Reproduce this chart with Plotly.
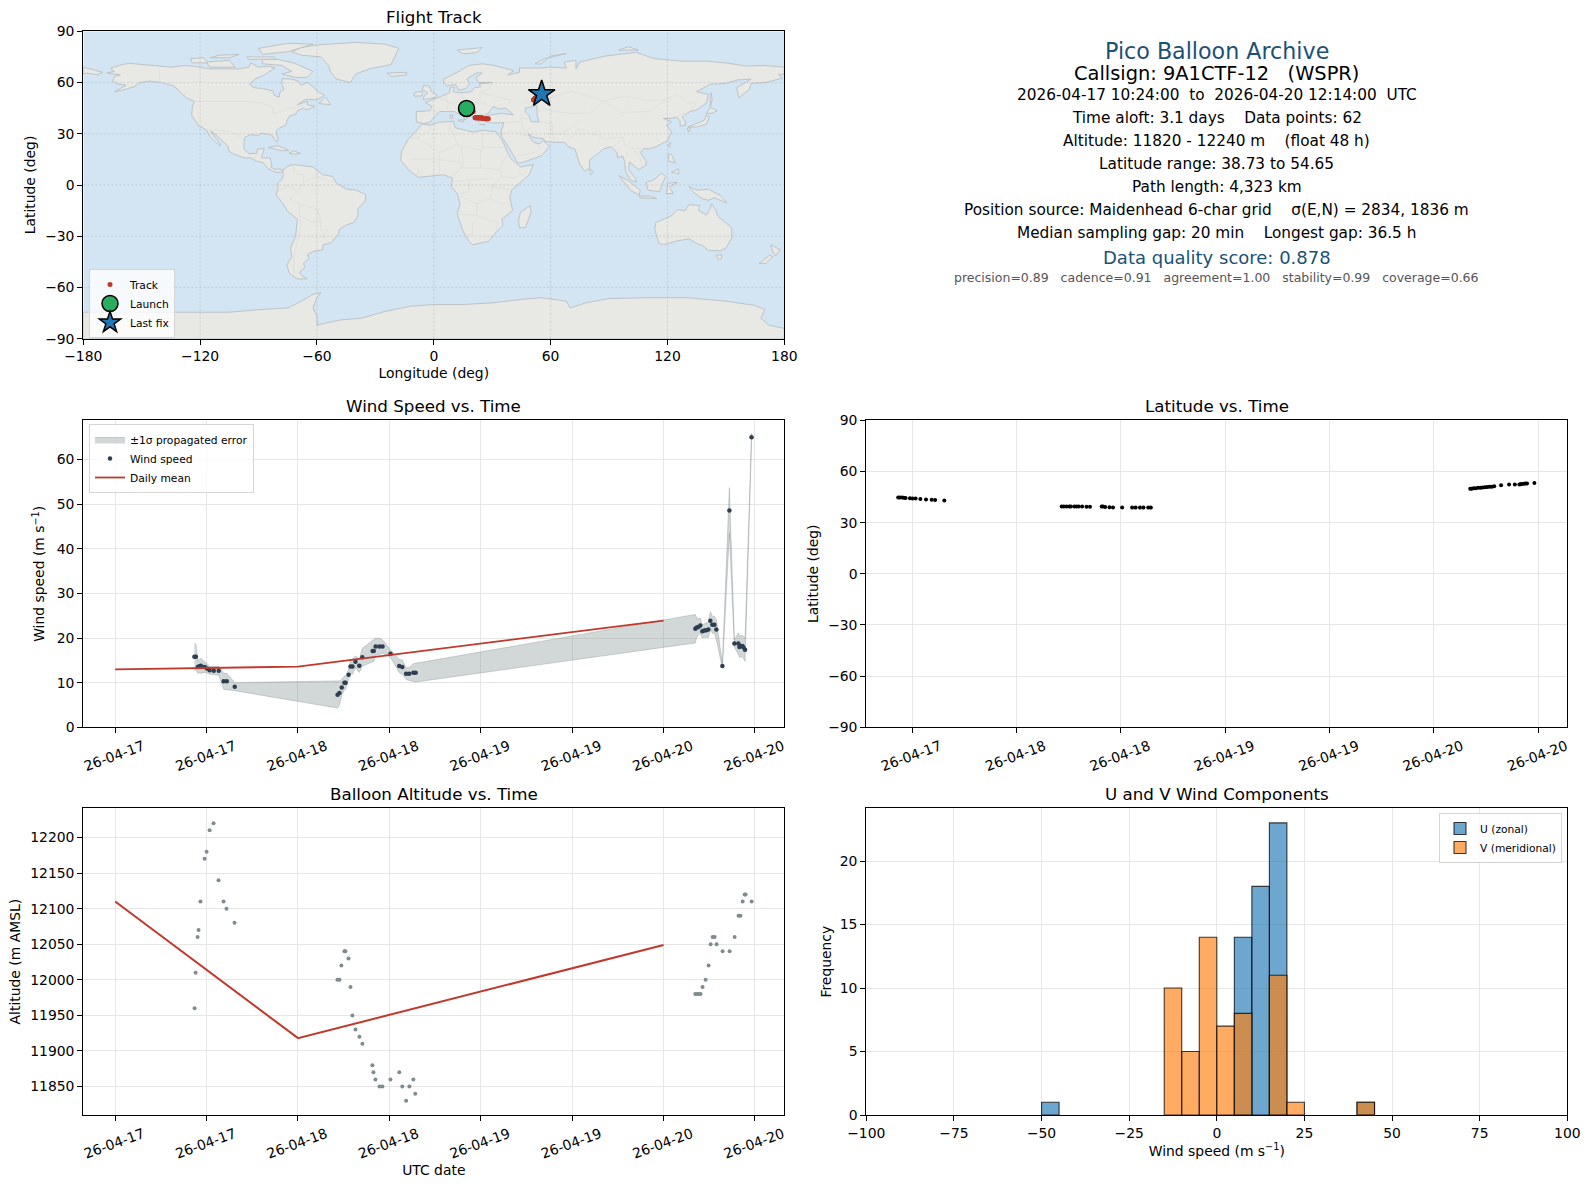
import pandas as pd
import plotly.graph_objects as go

FIG_W, FIG_H = 1589, 1189
FONT = "DejaVu Sans"
START = pd.Timestamp("2026-04-17")

# --- time series (hours after 2026-04-17 00:00) ---
wind_hours = [
    10.4, 10.6, 10.85, 11.05, 11.25, 11.75, 12.05, 12.4, 12.95, 13.6, 14.25, 14.65, 15.7,
    29.2, 29.45, 29.75, 30.1, 30.25, 30.65, 30.9, 31.15, 31.55, 32.05, 32.45, 33.8, 33.95,
    34.2, 34.7, 35.1, 36.15, 37.3, 37.7, 38.2, 38.6, 39.15, 39.45,
    76.17, 76.34, 76.56, 76.82, 77.09, 77.35, 77.6, 77.88, 78.14, 78.4, 78.67, 78.93,
    79.72, 80.64, 81.3, 81.82, 81.96, 82.1, 82.35, 82.5, 82.7, 83.55,
]
wind_speed = [
    15.8, 15.8, 13.5, 13.7, 13.8, 13.5, 13.2, 12.8, 12.7, 12.7, 10.3, 10.3, 9.1,
    7.3, 7.7, 8.9, 10.0, 10.0, 11.8, 13.6, 13.6, 14.7, 13.8, 15.7, 17.1, 17.1,
    18.1, 18.1, 18.1, 16.5, 13.75, 13.5, 12.0, 12.0, 12.25, 12.25,
    22.1, 22.35, 22.5, 22.8, 21.5, 21.7, 21.75, 21.9, 23.9, 23.0, 23.0, 21.9,
    13.75, 48.6, 18.76, 18.76, 18.0, 18.2, 18.2, 17.9, 17.4, 65.0,
]
wind_sigma = [
    3.0, 2.8, 1.4, 1.5, 1.7, 1.2, 1.0, 0.9, 0.9, 1.0, 1.8, 1.8, 0.9,
    3.0, 2.7, 1.8, 1.5, 1.5, 1.2, 1.5, 1.7, 1.3, 1.5, 2.0, 2.4, 2.4,
    1.9, 1.8, 1.5, 0.8, 1.5, 1.6, 1.3, 1.4, 2.0, 2.1,
    3.2, 2.2, 1.8, 1.7, 1.5, 1.5, 1.6, 1.8, 2.0, 1.9, 1.9, 2.2,
    0.5, 5.1, 0.8, 2.4, 2.4, 2.4, 2.4, 2.5, 2.6, 0.9,
]
track_lat = [
    44.8, 44.8, 44.7, 44.6, 44.4, 44.3, 44.2, 44.1, 43.9, 43.6, 43.4, 43.2, 43.0,
    39.4, 39.4, 39.4, 39.4, 39.4, 39.4, 39.4, 39.4, 39.4, 39.3, 39.3, 39.4, 39.4,
    39.2, 39.0, 38.9, 38.9, 38.8, 38.8, 38.8, 38.8, 38.8, 38.8,
    49.8, 49.9, 50.2, 50.2, 50.4, 50.5, 50.6, 50.7, 50.9, 51.0, 51.1, 51.3,
    51.9, 52.3, 52.3, 52.4, 52.5, 52.6, 52.8, 52.9, 53.0, 53.3,
]
track_lon = [
    16.8, 17.0, 17.3, 17.6, 17.9, 18.2, 18.5, 18.7, 18.9, 19.2, 19.5, 19.8, 20.2,
    21.2, 21.4, 21.6, 21.8, 22.0, 22.3, 22.6, 22.8, 23.1, 23.4, 23.7, 24.2, 24.4,
    24.7, 25.0, 25.3, 25.8, 26.3, 26.5, 26.9, 27.2, 27.6, 28.0,
    51.2, 51.3, 51.5, 51.6, 51.8, 51.9, 52.0, 52.1, 52.3, 52.4, 52.5, 52.7,
    53.1, 53.6, 54.0, 54.3, 54.4, 54.5, 54.7, 54.8, 55.0, 55.4,
]
alt_hours = [
    10.43, 10.56, 10.82, 10.95, 11.2, 11.74, 12.0, 12.4, 12.92, 13.57, 14.23, 14.62, 15.67,
    29.18, 29.45, 29.7, 30.1, 30.23, 30.63, 30.9, 31.15, 31.55, 32.07, 32.46, 33.77, 33.9,
    34.17, 34.7, 35.09, 36.14, 37.3, 37.7, 38.2, 38.63, 39.15, 39.4,
    76.16, 76.38, 76.6, 76.86, 77.12, 77.52, 77.91, 78.18, 78.44, 78.7, 78.96, 79.75,
    80.67, 81.33, 81.85, 82.1, 82.38, 82.64, 82.77, 83.56,
]
altitude = [
    11960, 12010, 12060, 12070, 12110, 12170, 12180, 12210, 12220, 12140, 12110, 12100, 12080,
    12000, 12000, 12020, 12040, 12040, 12030, 11990, 11950, 11930, 11920, 11910, 11880, 11870,
    11860, 11850, 11850, 11860, 11870, 11850, 11830, 11850, 11860, 11840,
    11980, 11980, 11980, 11980, 11990, 12000, 12020, 12050, 12060, 12060, 12050, 12040,
    12040, 12060, 12090, 12090, 12110, 12120, 12120, 12110,
]
mean_days = ["2026-04-17", "2026-04-18", "2026-04-20"]
mean_wind = [13.0, 13.6, 23.9]
mean_alt = [12110, 11918, 12049]

# --- histogram, 5 m/s bins, left edges of the non-empty bins ---
u_bins = [-50, 5, 10, 15, 40]
u_counts = [1, 14, 18, 23, 1]
v_bins = [-15, -10, -5, 0, 5, 15, 20, 40]
v_counts = [10, 5, 14, 7, 8, 11, 1, 1]

# --- tick values ---
lon_ticks = [-180, -120, -60, 0, 60, 120, 180]
lat_ticks = [-90, -60, -30, 0, 30, 60, 90]
wind_ticks = [0, 10, 20, 30, 40, 50, 60]
alt_ticks = [11850, 11900, 11950, 12000, 12050, 12100, 12150, 12200]
count_ticks = [0, 5, 10, 15, 20]
speed_ticks = [-100, -75, -50, -25, 0, 25, 50, 75, 100]

# --- coastlines, (lon, lat) ---
NORTH_AMERICA = [(-168,65.5),(-164,66.5),(-166,68.3),(-161,70.3),(-156.5,71.3),(-150,70.5),(-141,69.7),(-135,69),(-128,70),(-123,69.5),(-115,68),(-108,68),(-100,68),(-95,69),(-94,71.5),(-90,69),(-85,69.5),(-81.5,68.5),(-85,66),(-87,64.5),(-92,62),(-94.5,59),(-92.5,57),(-88,56.5),(-82.5,55),(-82,52.5),(-79.5,51.5),(-79,54.5),(-77,56),(-78,59),(-78,62.3),(-73,62),(-70,61),(-68,58.5),(-65,60),(-62,57.5),(-60,55),(-56,52.5),(-60,50),(-66,50),(-70,47),(-65,49),(-65,47),(-61,46),(-65,44),(-67,45),(-70,43.5),(-71,41.5),(-74,40.5),(-75.5,37.5),(-76,35),(-79,33.5),(-81,31.5),(-80,27),(-80.5,25.2),(-82,27),(-83,29),(-85,29.7),(-89,30.2),(-90,29),(-94,29.5),(-97,28),(-97.5,24),(-97.5,21),(-95,18.5),(-91,18.5),(-90.5,21),(-87,21.5),(-88,18),(-88.5,16),(-84,15.8),(-83.3,12),(-83.7,10.5),(-81,9),(-79.5,9.5),(-77.5,8.7),(-78.5,7.5),(-80.5,7.3),(-83,8.3),(-85.5,10),(-87.5,13),(-91,14),(-94.5,16),(-97,15.8),(-101.5,17.5),(-105.5,20),(-105.5,22.5),(-109,26),(-112.5,30),(-114.7,31.5),(-113,29),(-110,24.5),(-109.5,23),(-112,25),(-115,28.5),(-117,32.5),(-120.5,34.5),(-122.5,37.5),(-124.3,40.5),(-124,46),(-123,49),(-127,51),(-130,54.5),(-133.5,58),(-137,59),(-140,60),(-146,60.8),(-151,60),(-152,59),(-154,57.5),(-160,55.5),(-164,54.5),(-158,58.5),(-162,59),(-165,61),(-164,63.5),(-161,64.5)]
GREENLAND = [(-73,78),(-68,80.5),(-60,82),(-40,83.5),(-25,82.5),(-18,80),(-20,75),(-22,70.5),(-33,68),(-40,65),(-43,60),(-50,62),(-53,66),(-54,70),(-58,75),(-68,76)]
BAFFIN = [(-80,73.5),(-72,71.5),(-67,69),(-62,66.5),(-65,63),(-71,63),(-78,65),(-73,66.5),(-78,70),(-88,71),(-88,73.5)]
VICTORIA = [(-117,72),(-105,73),(-102,69),(-115,69)]
ELLESMERE = [(-90,80),(-75,83),(-62,82.5),(-75,78),(-88,76.5)]
BANKS = [(-125,74),(-118,74.5),(-116,71.5),(-124,71.5)]
MELVILLE = [(-110,76),(-100,76.5),(-105,74.5),(-115,74.5)]
DEVON = [(-96,75),(-82,75),(-81,73.7),(-95,73.5)]
NEWFOUNDLAND = [(-59,47.7),(-55.5,51.5),(-53,47)]
CUBA = [(-85,22),(-80,23),(-74.5,20.2),(-78,20)]
HISPANIOLA = [(-74.3,18.5),(-72,20),(-68.5,18.6),(-71,18)]
SOUTH_AMERICA = [(-77.5,8.5),(-75,11),(-72,12),(-68,11.5),(-62,10.5),(-57,6),(-52,5),(-50,1),(-44.5,-2.5),(-40,-3),(-35,-5.5),(-35,-9),(-39,-14),(-39,-18),(-41,-22),(-45,-23.5),(-48.5,-26),(-49,-29),(-53,-34),(-57,-35),(-57,-38),(-62,-39),(-65,-41),(-64,-43),(-67,-46),(-66,-48),(-69,-51),(-68,-53),(-65,-55),(-70,-55),(-74,-52),(-75.5,-47),(-73,-42),(-73.5,-37),(-71,-30),(-70,-20),(-75,-15.5),(-78,-10),(-81,-6),(-80,-2),(-80,1),(-77.5,4)]
AFRICA = [(-6,35.8),(-2,35),(3,36.8),(10,37.3),(11,33.5),(15,32.3),(20,31),(25,32),(32,31.2),(34,28),(36,24),(37.5,20),(39.5,15.5),(43,12),(44.5,10.5),(51,12),(49,6),(44,1),(40,-3),(39,-7),(40.5,-15),(35,-20),(35.5,-24),(32.5,-27),(28,-33),(20,-35),(18,-33),(15,-27),(12,-17),(13.5,-11),(12,-5),(9,-1),(9.5,4),(5,6),(-2,5),(-8,4.5),(-13,9),(-17,14.5),(-16.5,20),(-13,27),(-9.5,31)]
MADAGASCAR = [(49.5,-12),(50,-16),(47,-25),(44,-25),(43.5,-21),(44.5,-16)]
EURASIA = [(-9,37),(-9,43),(-2,43.5),(-1,46),(-4.5,48.3),(2,51),(4,52),(8,54),(8.5,57),(10.5,57.5),(10,54.5),(14,54),(19,54.5),(21,57),(24,57.5),(23.5,59.3),(30,60),(23,60),(21.5,63),(25,65.5),(22,65.7),(17,62),(18.5,59.5),(16.5,56.5),(13,55.5),(11,59),(7,58),(5,60),(5,62),(12,66),(18,70),(25,71),(31,70),(41,67),(38,64.5),(44,66),(44,68.5),(54,68.5),(60,69),(68,68.5),(67,72),(73,73),(73,68),(75,72),(80,73.5),(88,75.5),(104,77.7),(113,74),(128,72.5),(140,72.5),(150,71.5),(160,69.7),(170,70),(180,69),(180,65),(177,64.5),(179,62.5),(170,60),(163,59.5),(162,56),(156.7,51),(155.5,57),(163,62),(156,61.5),(150,59.5),(142,59),(135,54.7),(141,53),(140,48),(135,44),(131,42.7),(127.5,39.8),(129.3,37),(129,35),(126.5,34.5),(126.5,37.5),(125,39.5),(121.5,39),(118,39),(122,37),(119.5,35),(122,31),(120,26),(114,22.3),(110,21),(108,21.5),(106,19),(109,14),(109,11.5),(105,9),(103,11),(100.5,13.5),(100,9),(103.5,4),(104,1.5),(101,3),(98.5,8),(98,14),(97,17),(94.5,16),(94,19),(91,22.5),(87,21),(82,16.5),(80,14.5),(80,10),(77.5,8),(75,12),(73,19),(72.5,21),(69,22.5),(67,25),(62,25),(57,25.5),(56.5,27),(51,28),(48.5,30),(50,26.5),(51.5,25),(54,24),(56.3,26),(59.5,22.5),(55,17),(45,13),(43,13),(39,21),(35,28),(34.5,31),(36,36.5),(30,36.3),(27,37),(26.5,40),(29,41),(35,42),(41,41),(37,45),(33.5,44.5),(30.5,46),(28,42),(26,40.8),(23,40.5),(23,37),(20,39.5),(19.5,42),(14,45),(12.5,44),(18,40),(16,38),(15.5,40),(10.5,43),(6,43),(3,43),(0,39.5),(-2,36.7),(-5.5,36)]
CHUKOTKA = [(-180,69),(-175,67.5),(-170,66),(-173,64.5),(-178,65.5),(-180,65)]
BRITAIN = [(-5.5,50),(1,51.2),(1.5,52.8),(-1.5,55),(-2,57.5),(-5,58.6),(-6,56),(-3,54),(-5,52)]
IRELAND = [(-10,52),(-6,52.2),(-6,55),(-10,54)]
ICELAND = [(-24,65.5),(-14,66),(-14,64.5),(-22,63.5)]
SVALBARD = [(12,79),(25,80.5),(22,77.5),(15,76.8)]
NOVAYA_ZEMLYA = [(52,71),(57,74),(68,77),(60,75.5),(55,70.8)]
SEVERNAYA = [(95,79),(105,79),(100,81)]
SICILY = [(12.5,38),(15.5,38.2),(15,36.8)]
SARDINIA = [(8.3,41),(9.7,41),(9.5,39),(8.5,39)]
CRETE = [(23.5,35.5),(26.3,35.3),(24.5,35)]
HONSHU = [(130.5,34),(135,34),(140,35.5),(141.5,40),(140,41),(139,38),(136,36.5),(132,35)]
HOKKAIDO = [(140,42),(142,45.5),(145.5,43.5),(143,42)]
KYUSHU = [(130,33),(132,33.8),(131,31)]
SAKHALIN = [(142,46),(143,50),(142.5,54),(142,50)]
TAIWAN = [(120,23),(121.5,25),(121,22)]
SRI_LANKA = [(80,9.5),(82,7.5),(80.5,6)]
LUZON = [(120.5,18),(122,18),(124,13),(120.5,14)]
MINDANAO = [(122,7.5),(125.5,9.5),(126,6.5)]
BORNEO = [(109,1.5),(113,3),(117,7),(119,5),(117.5,1),(116,-4),(110,-3)]
SUMATRA = [(95,5.5),(100,2.5),(106,-3),(105.5,-6),(101,-3)]
JAVA = [(105.5,-6.5),(111,-6.5),(114.5,-8),(106,-7.5)]
SULAWESI = [(119.5,-5),(120,1),(125,1.5),(121,-1),(123,-5)]
NEW_GUINEA = [(131,-1),(135,-3),(141,-2.5),(147,-6),(150.5,-10.5),(144,-7.5),(141,-9),(138,-8),(133,-4)]
AUSTRALIA = [(114,-22),(113.5,-26),(115.5,-34),(118,-35),(124,-33),(131,-31.5),(135.5,-34.5),(138,-35.5),(141,-38.3),(147,-38.5),(150,-37),(153,-31),(153,-25),(149,-21),(146,-18.5),(145,-15),(142.7,-11),(141.5,-15),(140,-17.5),(136,-15),(136.5,-12),(131,-11.5),(129,-15),(125,-14.5),(122,-18),(117,-20.5)]
TASMANIA = [(145,-41),(148,-41),(147.5,-43.5),(146,-43.5)]
NZ_NORTH = [(173,-35),(178,-38),(175.5,-41.5),(174,-39)]
NZ_SOUTH = [(172.5,-41),(174,-42),(170.5,-46),(167,-46)]
ANTARCTICA = [(-180,-90),(-180,-74.5),(-120,-74.5),(-105,-74.5),(-90,-73),(-75,-72),(-68,-68),(-62,-64),(-58,-63),(-60,-66),(-62,-72),(-60,-77),(-60,-82),(-48,-79),(-37,-78),(-25,-74),(-12,-71),(0,-70),(15,-70),(30,-69),(45,-67),(55,-66),(68,-68),(70,-72),(78,-69),(90,-66.5),(110,-66),(130,-66),(150,-68),(165,-70.5),(170,-73),(168,-78),(172,-82),(180,-84),(180,-90)]
CASPIAN = [(47,45),(53,46.5),(53,41),(54,37),(50,37),(49,40.5),(47,43)]

LAND = [NORTH_AMERICA, GREENLAND, BAFFIN, VICTORIA, ELLESMERE, BANKS, MELVILLE, DEVON, NEWFOUNDLAND, CUBA,
        HISPANIOLA, SOUTH_AMERICA, AFRICA, MADAGASCAR, EURASIA, CHUKOTKA, BRITAIN, IRELAND, ICELAND, SVALBARD,
        NOVAYA_ZEMLYA, SEVERNAYA, SICILY, SARDINIA, CRETE, HONSHU, HOKKAIDO, KYUSHU, SAKHALIN, TAIWAN, SRI_LANKA,
        LUZON, MINDANAO, BORNEO, SUMATRA, JAVA, SULAWESI, NEW_GUINEA, AUSTRALIA, TASMANIA, NZ_NORTH, NZ_SOUTH,
        ANTARCTICA]

BORDERS = [
    [(-123,49),(-95,49),(-89,48),(-83,46),(-82.5,42),(-79,43),(-75,45),(-71,45),(-67.5,47),(-67,45)],
    [(-141,69.7),(-141,60.5),(-135,59)],
    [(-117,32.5),(-108,31.5),(-106,31.7),(-101,29.5),(-97.5,26)],
    [(-92,14.7),(-91,17.5),(-89,18)],
    [(-72,12),(-72,7),(-67,6),(-67,1.5),(-70,-4),(-74,-8),(-69,-11),(-69,-18),(-62,-22),(-58,-20),(-58,-27),(-54,-26),(-57.5,-30),(-53,-34)],
    [(-69,-18),(-68,-24),(-70,-33),(-72,-42),(-72,-52)],
    [(-80,-3.5),(-75,-1),(-70,-4)],
    [(-60,8),(-60,5),(-67,1.5)],
    [(-69,-11),(-60,-14),(-58,-20)],
    [(-60,5),(-52,2)],
    [(-8.5,27.5),(-2,32),(-1.5,35)],
    [(-13,27.5),(-8.5,27.5),(3,19),(12,23.5),(10,30),(8,33),(9,37)],
    [(12,23.5),(25,20),(25,31.5)],
    [(25,22),(36,22)],
    [(24,20),(24,10),(34,9),(36,14.5),(38,18)],
    [(14,23),(15,13),(14,10),(9,4.5)],
    [(3,19),(3,12),(3,6)],
    [(-12,15),(3,15),(15,13)],
    [(-8,10),(-8,4.5)],
    [(34,9),(35,5),(41,4),(48,8)],
    [(35,5),(30,-1),(29,-8),(22,-11),(13,-6)],
    [(30,-1),(40,-3)],
    [(29,-8),(34,-11),(40,-10.5)],
    [(22,-11),(22,-18),(12,-17)],
    [(20,-22),(20,-29),(17,-29)],
    [(22,-18),(33,-22),(32,-26)],
    [(14,10),(24,10)],
    [(18,3),(18,-4),(13,-5)],
    [(9,2),(18,3),(30,4)],
    [(-1.7,43.3),(3,42.5)],
    [(2.5,51),(7,49),(7.5,47.5),(6.5,44)],
    [(7,53.5),(6,51),(8,48)],
    [(14,54),(15,51),(12,48.5),(7.5,47.5)],
    [(23.5,54),(24,50.5),(22,48),(17,48)],
    [(22,48),(26,48),(29,45.5)],
    [(28,41.5),(23,41.5),(20,40)],
    [(30,60),(28,56),(24,54),(31,52),(40,49.5),(38,47)],
    [(47,48),(60,51),(70,55),(83,51),(87,49)],
    [(87,49),(98,52),(110,49.5),(119,50),(111,43),(96,42.5),(87,49)],
    [(119,50),(125,53),(131,48),(135,48),(131,43)],
    [(53,42),(56,45),(62,43),(71,42),(80,42),(87,49)],
    [(44.5,39.5),(48,38.5)],
    [(54,37),(61,36),(61,31),(62,25)],
    [(44.5,39.5),(46,33),(48.5,30)],
    [(36,36.5),(44.5,37)],
    [(35,29.5),(39,32),(46,29),(48,29)],
    [(43,17),(52,19),(55,22),(52,24.5)],
    [(61,30),(66,30),(71,34),(74,37)],
    [(68,24),(71,28),(74,33),(79,32),(81,30),(88,27),(97,28),(94,24),(92,22)],
    [(97,28),(98,24),(102,21.5),(108,21.5)],
    [(98,14),(100,20)],
    [(102,21.5),(106,15),(107,11)],
    [(124.5,40),(130.5,42.5)],
]

INFO_LINES = [
    ("Pico Balloon Archive", 22.2, "#1a5276", 50.5),
    ("Callsign: 9A1CTF-12   (WSPR)", 19.4, "black", 73.8),
    ("2026-04-17 10:24:00  to  2026-04-20 12:14:00  UTC", 15.3, "black", 95),
    ("Time aloft: 3.1 days    Data points: 62", 15.3, "black", 118),
    ("Altitude: 11820 - 12240 m    (float 48 h)", 15.3, "black", 141),
    ("Latitude range: 38.73 to 54.65", 15.3, "black", 164),
    ("Path length: 4,323 km", 15.3, "black", 187),
    ("Position source: Maidenhead 6-char grid    σ(E,N) = 2834, 1836 m", 15.3, "black", 210),
    ("Median sampling gap: 20 min    Longest gap: 36.5 h", 15.3, "black", 233),
    ("Data quality score: 0.878", 18, "#1a5276", 257.3),
    ("precision=0.89   cadence=0.91   agreement=1.00   stability=0.99   coverage=0.66", 12.5, "#555555", 278),
]

COL1 = (83.3, 784.3)
COL2 = (866.3, 1567.3)
ROW1 = (31.3, 338.7)
ROW2 = (420.3, 727.3)
ROW3 = (808.3, 1115)


def dom_x(col):
    return [col[0] / FIG_W, col[1] / FIG_W]


def dom_y(row):
    return [1 - row[1] / FIG_H, 1 - row[0] / FIG_H]


def to_time(hours):
    return START + pd.to_timedelta(hours, unit="h")


def split_xy(lines):
    # polylines -> x/y lists with None breaks
    xs, ys = [], []
    for line in lines:
        xs += [p[0] for p in line] + [None]
        ys += [p[1] for p in line] + [None]
    return xs, ys


def base_axis(**kw):
    ax = dict(
        showline=True, mirror=True, linecolor="black", linewidth=1.1,
        ticks="outside", ticklen=5, tickwidth=1.1, tickcolor="black",
        showgrid=True, gridcolor="#e6e6e6", gridwidth=1, zeroline=False,
        tickfont=dict(family=FONT, size=13.9, color="black"),
    )
    ax.update(kw)
    return ax


def axis_title(text, standoff):
    return dict(text=text, font=dict(family=FONT, size=13.9, color="black"), standoff=standoff)


def time_axis(col, row, lo, hi, **kw):
    return base_axis(
        domain=dom_x(col), anchor=kw.pop("anchor"), type="date", range=[lo, hi],
        tick0="2026-04-17", dtick=43200000, tickformat="%y-%m-%d", tickangle=-20,
        ticklabelshift=28, **kw,
    )


wind_t = to_time(pd.Series(wind_hours))
alt_t = to_time(pd.Series(alt_hours))
band_hi = [v + s for v, s in zip(wind_speed, wind_sigma)]
band_lo = [v - s for v, s in zip(wind_speed, wind_sigma)]

fig = go.Figure()

# --- map panel ---
for poly in LAND:
    fig.add_trace(go.Scatter(
        x=[p[0] for p in poly] + [poly[0][0]], y=[p[1] for p in poly] + [poly[0][1]],
        mode="lines", fill="toself", fillcolor="#e8e8e4", line=dict(color="#b9c0c4", width=0.9),
        showlegend=False, hoverinfo="skip", xaxis="x", yaxis="y",
    ))
fig.add_trace(go.Scatter(
    x=[p[0] for p in CASPIAN] + [CASPIAN[0][0]], y=[p[1] for p in CASPIAN] + [CASPIAN[0][1]],
    mode="lines", fill="toself", fillcolor="#d3e5f2", line=dict(color="#b9c0c4", width=0.9),
    showlegend=False, hoverinfo="skip", xaxis="x", yaxis="y",
))
bx, by = split_xy(BORDERS)
fig.add_trace(go.Scatter(x=bx, y=by, mode="lines", line=dict(color="#dcdcd8", width=0.7),
                         showlegend=False, hoverinfo="skip", xaxis="x", yaxis="y"))
# grid sits over the land here, so it is a trace and not the axis grid
gx, gy = split_xy([[(v, lat_ticks[0]), (v, lat_ticks[-1])] for v in lon_ticks[1:-1]]
                  + [[(lon_ticks[0], v), (lon_ticks[-1], v)] for v in lat_ticks[1:-1]])
fig.add_trace(go.Scatter(x=gx, y=gy, mode="lines", line=dict(color="rgba(120,130,140,0.4)", width=0.6, dash="2px,2px"),
                         showlegend=False, hoverinfo="skip", xaxis="x", yaxis="y"))
fig.add_trace(go.Scatter(x=track_lon, y=track_lat, mode="markers", name="Track", legend="legend",
                         marker=dict(color="#c0392b", size=5), xaxis="x", yaxis="y"))
fig.add_trace(go.Scatter(x=track_lon[:1], y=track_lat[:1], mode="markers", name="Launch", legend="legend",
                         marker=dict(color="#27ae60", size=16, line=dict(color="black", width=1.5)),
                         xaxis="x", yaxis="y"))
fig.add_trace(go.Scatter(x=track_lon[-1:], y=track_lat[-1:], mode="markers", name="Last fix", legend="legend",
                         marker=dict(color="#1f77b4", size=20, symbol="star", line=dict(color="black", width=1.5)),
                         xaxis="x", yaxis="y"))

# --- wind panel ---
fig.add_trace(go.Scatter(
    x=list(wind_t) + list(wind_t[::-1]), y=band_hi + band_lo[::-1], mode="lines", fill="toself",
    fillcolor="rgba(127,140,141,0.35)", line=dict(color="rgba(127,140,141,0.35)", width=1),
    name="±1σ propagated error", legend="legend2", xaxis="x2", yaxis="y2",
))
fig.add_trace(go.Scatter(x=wind_t, y=wind_speed, mode="markers", name="Wind speed", legend="legend2",
                         marker=dict(color="#2c3e50", size=4.5), xaxis="x2", yaxis="y2"))
fig.add_trace(go.Scatter(x=mean_days, y=mean_wind, mode="lines", name="Daily mean", legend="legend2",
                         line=dict(color="#c0392b", width=1.8), xaxis="x2", yaxis="y2"))

# --- latitude panel ---
fig.add_trace(go.Scatter(x=wind_t, y=track_lat, mode="markers", showlegend=False,
                         marker=dict(color="black", size=4), xaxis="x3", yaxis="y3"))

# --- altitude panel ---
fig.add_trace(go.Scatter(x=alt_t, y=altitude, mode="markers", showlegend=False,
                         marker=dict(color="#7f8c8d", size=4), xaxis="x4", yaxis="y4"))
fig.add_trace(go.Scatter(x=mean_days, y=mean_alt, mode="lines", showlegend=False,
                         line=dict(color="#c0392b", width=2), xaxis="x4", yaxis="y4"))

# --- histogram panel ---
fig.add_trace(go.Bar(x=[b + 2.5 for b in u_bins], y=u_counts, width=5, name="U (zonal)", legend="legend3",
                     marker=dict(color="rgba(31,119,180,0.65)", line=dict(color="rgba(0,0,0,0.75)", width=1.1)),
                     xaxis="x5", yaxis="y5"))
fig.add_trace(go.Bar(x=[b + 2.5 for b in v_bins], y=v_counts, width=5, name="V (meridional)", legend="legend3",
                     marker=dict(color="rgba(255,127,14,0.65)", line=dict(color="rgba(0,0,0,0.75)", width=1.1)),
                     xaxis="x5", yaxis="y5"))

# ocean background of the map
fig.add_shape(type="rect", xref="x", yref="y", x0=lon_ticks[0], x1=lon_ticks[-1], y0=lat_ticks[0], y1=lat_ticks[-1],
              fillcolor="#d3e5f2", line_width=0, layer="below")

annotations = []
for text, col, row in [
    ("Flight Track", COL1, ROW1), ("Wind Speed vs. Time", COL1, ROW2), ("Latitude vs. Time", COL2, ROW2),
    ("Balloon Altitude vs. Time", COL1, ROW3), ("U and V Wind Components", COL2, ROW3),
]:
    annotations.append(dict(
        text=text, xref="paper", yref="paper", x=(col[0] + col[1]) / 2 / FIG_W, y=1 - (row[0] - 2) / FIG_H,
        xanchor="center", yanchor="bottom", showarrow=False, font=dict(family=FONT, size=16.7, color="black"),
    ))
for text, size, color, ypx in INFO_LINES:
    annotations.append(dict(
        text=text, xref="paper", yref="paper", x=(COL2[0] + COL2[1]) / 2 / FIG_W, y=1 - ypx / FIG_H,
        xanchor="center", yanchor="middle", showarrow=False, font=dict(family=FONT, size=size, color=color),
    ))

legend_base = dict(
    bgcolor="rgba(255,255,255,0.8)", bordercolor="#d5d5d5", borderwidth=1,
    font=dict(family=FONT, size=10.7, color="black"), xanchor="left", yanchor="top", itemsizing="trace",
)

fig.update_layout(
    width=FIG_W, height=FIG_H, autosize=False, margin=dict(l=0, r=0, t=0, b=0, pad=0, autoexpand=False),
    paper_bgcolor="white", plot_bgcolor="white", barmode="overlay", showlegend=True,
    annotations=annotations,
    legend=dict(legend_base, x=89 / FIG_W, y=1 - 269 / FIG_H),
    legend2=dict(legend_base, x=89 / FIG_W, y=1 - 424 / FIG_H),
    legend3=dict(legend_base, x=1439 / FIG_W, y=1 - 813 / FIG_H),
    xaxis=base_axis(domain=dom_x(COL1), anchor="y", range=[-180, 180], tickvals=lon_ticks, showgrid=False,
                    title=axis_title("Longitude (deg)", 4)),
    yaxis=base_axis(domain=dom_y(ROW1), anchor="x", range=[-90, 90], tickvals=lat_ticks, showgrid=False,
                    title=axis_title("Latitude (deg)", 6)),
    xaxis2=time_axis(COL1, ROW2, "2026-04-16 19:49", "2026-04-20 15:51", anchor="y2"),
    yaxis2=base_axis(domain=dom_y(ROW2), anchor="x2", range=[0, 68.8], tickvals=wind_ticks,
                     title=axis_title("Wind speed (m s<sup>−1</sup>)", 8)),
    xaxis3=time_axis(COL2, ROW2, "2026-04-17 06:44", "2026-04-20 15:20", anchor="y3"),
    yaxis3=base_axis(domain=dom_y(ROW2), anchor="x3", range=[-90, 90], tickvals=lat_ticks,
                     title=axis_title("Latitude (deg)", 6)),
    xaxis4=time_axis(COL1, ROW3, "2026-04-16 19:49", "2026-04-20 15:51", anchor="y4",
                     title=axis_title("UTC date", 4)),
    yaxis4=base_axis(domain=dom_y(ROW3), anchor="x4", range=[11810, 12241], tickvals=alt_ticks, tickformat="d",
                     title=axis_title("Altitude (m AMSL)", 6)),
    xaxis5=base_axis(domain=dom_x(COL2), anchor="y5", range=[-100, 100], tickvals=speed_ticks,
                     title=axis_title("Wind speed (m s<sup>−1</sup>)", 4)),
    yaxis5=base_axis(domain=dom_y(ROW3), anchor="x5", range=[0, 24.15], tickvals=count_ticks,
                     title=axis_title("Frequency", 4)),
)

fig.write_html("out.html", config={"displayModeBar": False}, post_script="document.body.style.margin='0';")
